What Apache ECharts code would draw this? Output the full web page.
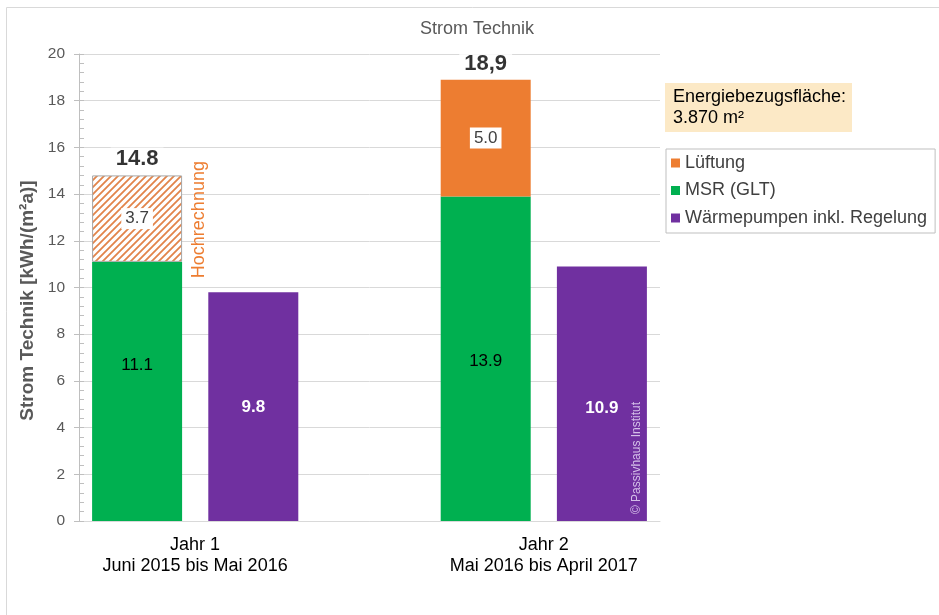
<!DOCTYPE html>
<html>
<head>
<meta charset="utf-8">
<script src="https://cdn.jsdelivr.net/npm/echarts@6/dist/echarts.min.js"></script>
<style>html,body{margin:0;padding:0;background:#fff}#c{width:939px;height:615px}</style>
</head>
<body>
<div id="c"></div>
<script>
// ---- data ----
const groupLabels = ['Jahr 1\nJuni 2015 bis Mai 2016', 'Jahr 2\nMai 2016 bis April 2017'];
const msr = [11.1, 13.9];
const lueftung = [3.7, 5.0];          // Jahr 1: Hochrechnung (estimated)
const waermepumpen = [9.8, 10.9];
const totals = [14.8, 18.9];
const totalLabels = ['14.8', '18,9'];
const legendNames = ['Lüftung', 'MSR (GLT)', 'Wärmepumpen inkl. Regelung'];
const areaNote = ['Energiebezugsfläche:', '3.870 m²'];
const estimateNote = 'Hochrechnung';
const copyright = '© Passivhaus Institut';

const FONT = "'Liberation Sans', Arial, sans-serif";
const GREEN = '#00B050', ORANGE = '#ED7D31', PURPLE = '#7030A0';

// slots: 0 = Jahr1 stack, 1 = Jahr1 WP, 2 = gap, 3 = Jahr2 stack, 4 = Jahr2 WP
const slots = ['s0', 's1', 's2', 's3', 's4'];
const slotLabel = {s0: groupLabels[0], s3: groupLabels[1]};

// hatch pattern
const pc = document.createElement('canvas');
pc.width = 7; pc.height = 7;
const g = pc.getContext('2d');
g.fillStyle = '#fff'; g.fillRect(0, 0, 7, 7);
g.strokeStyle = '#E2844A'; g.lineWidth = 1.8;
g.beginPath();
g.moveTo(-1, 8); g.lineTo(8, -1);
g.moveTo(-1, 1); g.lineTo(1, -1);
g.moveTo(6, 8); g.lineTo(8, 6);
g.stroke();

const chart = echarts.init(document.getElementById('c'), null, {renderer: 'canvas'});

const insideLbl = {show: true, position: 'inside', fontFamily: FONT, fontSize: 17, color: '#000'};

const option = {
  animation: false,
  textStyle: {fontFamily: FONT},
  title: {
    text: 'Strom Technik', left: 472, top: 15, textAlign: 'center',
    textStyle: {fontFamily: FONT, fontSize: 18, fontWeight: 'normal', color: '#595959'}
  },
  legend: {
    orient: 'vertical', left: 666, top: 149,
    data: legendNames,
    icon: 'rect', itemWidth: 9, itemHeight: 9, itemGap: 7.5,
    padding: [4, 8, 5, 5],
    borderColor: '#bfbfbf', borderWidth: 1,
    textStyle: {fontFamily: FONT, fontSize: 18, color: '#404040', lineHeight: 20},
    selectedMode: false
  },
  grid: {left: 79, right: 279, top: 54, bottom: 94, containLabel: false, outerBoundsMode: 'none'},
  xAxis: {
    type: 'category', data: slots,
    axisLine: {lineStyle: {color: '#d9d9d9'}},
    axisTick: {show: false},
    axisLabel: {
      interval: 0, margin: 14, padding: [0, 0, 0, 116],
      fontFamily: FONT, fontSize: 18, lineHeight: 21, color: '#000',
      formatter: v => slotLabel[v] || ''
    }
  },
  yAxis: [{
    type: 'value', min: 0, max: 20, interval: 2,
    name: 'Strom Technik [kWh/(m²a)]', nameLocation: 'middle', nameGap: 36,
    nameTextStyle: {fontFamily: FONT, fontSize: 19, fontWeight: 'bold', color: '#595959', padding: [0, 26, 0, 0]},
    axisLine: {show: true, lineStyle: {color: '#bfbfbf'}},
    axisTick: {show: true, inside: true, length: 5, lineStyle: {color: '#bfbfbf'}},
    minorTick: {show: true, splitNumber: 5, length: 5, lineStyle: {color: '#bfbfbf'}},
    axisLabel: {margin: 14, fontFamily: FONT, fontSize: 15.5, color: '#595959'},
    splitLine: {lineStyle: {color: '#d9d9d9'}}
  }, {
    type: 'value', min: 0, max: 20, interval: 2, position: 'left',
    axisLine: {show: false},
    axisTick: {show: true, inside: false, length: 5, lineStyle: {color: '#bfbfbf'}},
    axisLabel: {show: false}, splitLine: {show: false}
  }],
  series: [
    {
      name: 'MSR (GLT)', type: 'bar', stack: 'a', barWidth: 90,
      itemStyle: {color: GREEN},
      label: insideLbl,
      data: [{value: msr[0], label: {offset: [0, -26]}}, null, null, {value: msr[1], label: {offset: [0, 3]}}, null]
    },
    {
      name: 'Lüftung', type: 'bar', stack: 'a', barWidth: 90,
      itemStyle: {color: ORANGE},
      label: Object.assign({}, insideLbl, {color: '#404040', backgroundColor: '#fff', padding: [3, 4, 1, 4], formatter: p => p.value.toFixed(1)}),
      data: [null, null, null, lueftung[1], null]
    },
    {
      name: 'Lüftung (Hochrechnung)', type: 'bar', stack: 'a', barWidth: 90,
      itemStyle: {color: {image: pc, repeat: 'repeat'}, borderColor: '#a6a6a6', borderWidth: 1},
      label: Object.assign({}, insideLbl, {color: '#404040', backgroundColor: '#fff', padding: [3, 4, 1, 4]}),
      data: [lueftung[0], null, null, null, null]
    },
    {
      name: 'Wärmepumpen inkl. Regelung', type: 'bar', stack: 'a', barWidth: 90,
      itemStyle: {color: PURPLE},
      label: Object.assign({}, insideLbl, {color: '#fff', fontWeight: 'bold'}),
      data: [null, {value: waermepumpen[0], label: {offset: [0, 1]}}, null, null, {value: waermepumpen[1], label: {offset: [0, 15]}}]
    },
    {
      name: 'Summe', type: 'scatter', symbolSize: 0, silent: true,
      label: {
        show: true, position: 'top', distance: 5,
        fontFamily: FONT, fontSize: 22, fontWeight: 'bold', color: '#000',
        backgroundColor: '#fff', padding: [1, 5, 0, 5],
        formatter: p => totalLabels[p.dataIndex]
      },
      data: [['s0', totals[0]], ['s3', totals[1]]]
    }
  ]
};
chart.setOption(option);

const hp = chart.convertToPixel({seriesIndex: 2}, ['s0', msr[0] + lueftung[0] / 2]);
const wp = chart.convertToPixel({seriesIndex: 3}, ['s4', 0]);
chart.setOption({
  graphic: [
    {type: 'line', shape: {x1: 6.5, y1: 7.5, x2: 939, y2: 7.5}, style: {stroke: '#d9d9d9', lineWidth: 1}, silent: true},
    {type: 'line', shape: {x1: 6.5, y1: 7.5, x2: 6.5, y2: 615}, style: {stroke: '#d9d9d9', lineWidth: 1}, silent: true},
    {type: 'rect', shape: {x: 665, y: 83, width: 187, height: 49}, style: {fill: '#FCE9C6'}, silent: true},
    {type: 'text', x: 673, y: 87, style: {text: areaNote.join('\n'), font: "18px 'Liberation Sans', Arial", fill: '#000', lineHeight: 21}, silent: true},
    {type: 'text', x: hp[0] + 62, y: hp[1] + 1, rotation: Math.PI / 2,
      style: {text: estimateNote, font: "18px 'Liberation Sans', Arial", fill: ORANGE, align: 'center', verticalAlign: 'middle'}, silent: true},
    {type: 'text', x: wp[0] + 35, y: wp[1] - 63, rotation: Math.PI / 2, z: 200,
      style: {text: copyright, font: "12px 'Liberation Sans', Arial", fill: '#d4bfe8', align: 'center', verticalAlign: 'middle'}, silent: true}
  ]
});
</script>
</body>
</html>
